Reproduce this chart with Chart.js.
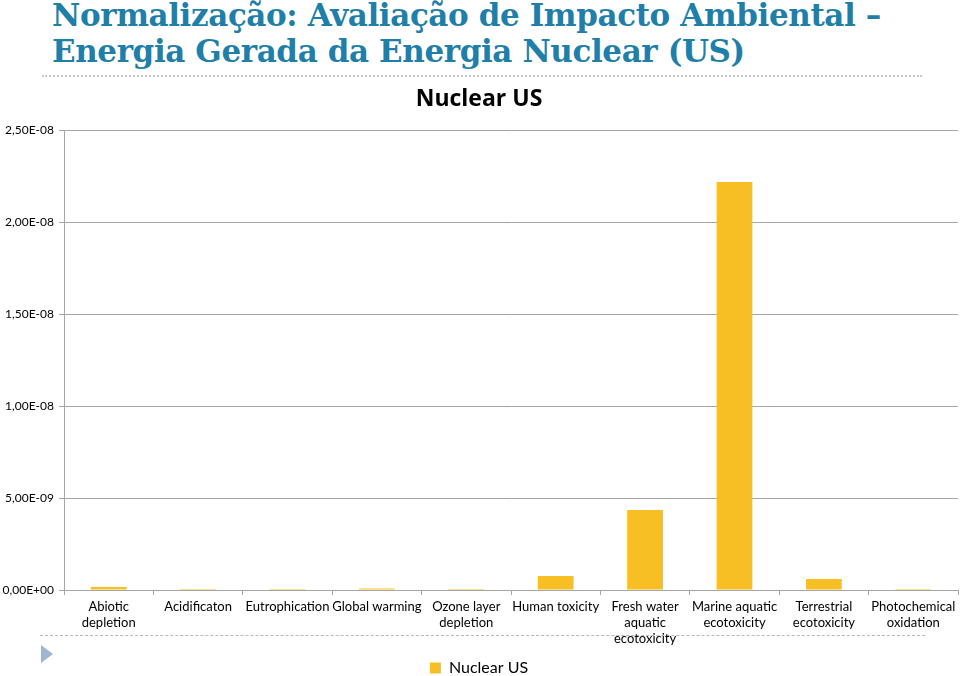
<!DOCTYPE html>
<html>
<head>
<meta charset="utf-8">
<script src="https://cdn.jsdelivr.net/npm/chart.js@4/dist/chart.umd.min.js"></script>
<style>
  body { margin: 0; background: #fff; }
  #wrap { position: relative; width: 960px; height: 676px; overflow: hidden; }
  #chart { position: absolute; left: 0; top: 0; z-index: 1; }
  .heading {
    position: absolute; left: 52px; top: -3px;
    font-family: "DejaVu Serif", serif; font-weight: bold;
    font-size: 31px; line-height: 36px; color: #1f7fa8; white-space: nowrap;
    letter-spacing: -0.4px;
  }
  .rule { position: absolute; border-top: 2px dotted #c8c8c8; }
  .dash { position: absolute; border-top: 1px dashed #b8b8b8; }
  .tri {
    position: absolute; left: 41px; top: 645px; width: 0; height: 0;
    border-top: 9px solid transparent; border-bottom: 9px solid transparent;
    border-left: 12px solid #9fb6d2;
  }
</style>
</head>
<body>
<div id="wrap">
  <div class="heading">Normalização: Avaliação de Impacto Ambiental –<br>Energia Gerada da Energia Nuclear (US)</div>
  <div class="rule" style="left:42px; top:75px; width:880px;"></div>
  <div class="dash" style="left:40px; top:635px; width:885px;"></div>
  <div class="tri"></div>
  <canvas id="chart" width="960" height="686"></canvas>
</div>
<script>
// categories and values
const categories = [
  ['Abiotic', 'depletion'],
  'Acidificaton',
  'Eutrophication',
  'Global warming',
  ['Ozone layer', 'depletion'],
  'Human toxicity',
  ['Fresh water', 'aquatic', 'ecotoxicity'],
  ['Marine aquatic', 'ecotoxicity'],
  ['Terrestrial', 'ecotoxicity'],
  ['Photochemical', 'oxidation']
];
const nuclearUS = [1.6e-10, 6e-11, 5e-11, 8e-11, 1e-12, 7.6e-10, 4.35e-9, 2.22e-8, 6e-10, 2e-12];
const yTicks = [0, 5e-9, 1e-8, 1.5e-8, 2e-8, 2.5e-8];

const grey = '#a6a6a6';
const font = 'Lato, "Open Sans", sans-serif';

// 2,50E-08 style labels
function sci(v) {
  if (Math.abs(v) < 1e-20) return '0,00E+00';
  const [m, e] = v.toExponential(2).split('e');
  const n = parseInt(e, 10);
  return m.replace('.', ',') + 'E' + (n < 0 ? '-' : '+') + String(Math.abs(n)).padStart(2, '0');
}

new Chart(document.getElementById('chart'), {
  type: 'bar',
  data: {
    labels: categories,
    datasets: [{
      label: 'Nuclear US',
      data: nuclearUS,
      backgroundColor: '#f8bf24',
      barPercentage: 0.4,
      categoryPercentage: 1
    }]
  },
  options: {
    responsive: false,
    animation: false,
    layout: { padding: { top: 86, right: 2, left: 0, bottom: 0 } },
    plugins: {
      title: {
        display: true,
        text: 'Nuclear US',
        color: '#000',
        font: { family: '"Open Sans", sans-serif', size: 23, weight: 'bold' },
        padding: { top: 0, bottom: 17 }
      },
      legend: {
        position: 'bottom',
        labels: { color: '#000', boxWidth: 11, boxHeight: 11, padding: 9, font: { family: font, size: 16 } }
      },
      tooltip: { enabled: false }
    },
    scales: {
      x: {
        grid: { display: true, drawOnChartArea: false, drawTicks: true, tickLength: 5, offset: true, color: grey },
        border: { display: true, color: grey },
        ticks: { color: '#000', padding: 4, maxRotation: 0, autoSkip: false, font: { family: font, size: 13, lineHeight: 1.23 } }
      },
      y: {
        min: 0,
        max: 2.5e-8,
        afterBuildTicks: (s) => { s.ticks = yTicks.map(v => ({ value: v })); },
        afterFit: (s) => { s.width = 64; },
        grid: { color: grey, tickLength: 5 },
        border: { display: true, color: grey },
        ticks: { color: '#000', padding: 5, callback: (v) => sci(v), font: { family: font, size: 12 } }
      }
    }
  }
});
</script>
</body>
</html>
